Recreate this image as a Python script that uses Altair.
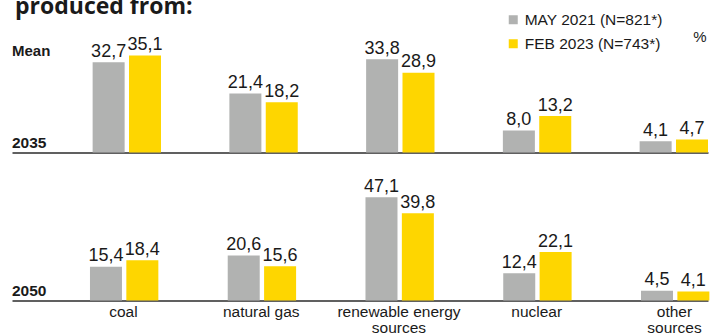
import altair as alt
import pandas as pd

categories = ["coal", "natural gas", "renewable energy sources", "nuclear", "other sources"]
series = ["MAY 2021 (N=821*)", "FEB 2023 (N=743*)"]
may_2035 = [32.7, 21.4, 33.8, 8.0, 4.1]
feb_2035 = [35.1, 18.2, 28.9, 13.2, 4.7]
may_2050 = [15.4, 20.6, 47.1, 12.4, 4.5]
feb_2050 = [18.4, 15.6, 39.8, 22.1, 4.1]
colors = ["#b1b2b1", "#fed600"]


def frame(may, feb):
    rows = []
    for c, a, b in zip(categories, may, feb):
        rows.append({"category": c, "series": series[0], "value": a})
        rows.append({"category": c, "series": series[1], "value": b})
    return pd.DataFrame(rows)


W = 696
H1, H2 = 132, 134
FONT = "Liberation Sans"
INK = "#1a1a1a"

label_expr = ("datum.value == 'renewable energy sources' ? ['renewable energy', 'sources'] : "
              "datum.value == 'other sources' ? ['other', 'sources'] : datum.label")


def note(txt, x, y, size, bold=False, font=FONT, align="left"):
    return alt.Chart(pd.DataFrame({"t": [txt]})).mark_text(
        font=font, fontSize=size, fontWeight="bold" if bold else "normal",
        color=INK, align=align, baseline="alphabetic"
    ).encode(x=alt.value(x), y=alt.value(y), text="t:N")


def panel(df, ymax, height, pin, pout, off_pin, show_labels, legend):
    base = alt.Chart(df).transform_calculate(
        txt="replace(format(datum.value, '.1f'), '.', ',')")
    x = alt.X("category:N", sort=categories, title=None,
              scale=alt.Scale(paddingInner=pin, paddingOuter=pout, align=1),
              axis=alt.Axis(labels=show_labels, ticks=False, tickSize=0, domain=True,
                            domainColor="#2b2b2b", domainWidth=1.5, labelFontSize=15.5,
                            labelFont=FONT, labelColor=INK, labelPadding=4,
                            labelExpr=label_expr, labelLineHeight=16, labelAngle=0,
                            grid=False))
    xo = alt.XOffset("series:N", sort=series,
                     scale=alt.Scale(paddingInner=off_pin, paddingOuter=0))
    y = alt.Y("value:Q", scale=alt.Scale(domain=[0, ymax]), axis=None)
    color = alt.Color("series:N", sort=series,
                      scale=alt.Scale(domain=series, range=colors), legend=legend)
    bars = base.mark_bar().encode(x=x, xOffset=xo, y=y, color=color)
    text = base.mark_text(font=FONT, fontSize=18, color=INK, dy=-5.5,
                          baseline="alphabetic").encode(x=x, xOffset=xo, y=y, text="txt:N")
    return bars, text


legend = alt.Legend(orient="none", legendX=493.5, legendY=-8.5, title=None,
                    symbolType="square", symbolSize=81, symbolStrokeWidth=0,
                    symbolOpacity=1, labelFontSize=15.5, labelFont=FONT, labelColor=INK,
                    labelOffset=3.7, rowPadding=7, padding=0)

b1, t1 = panel(frame(may_2035, feb_2035), H1 / 2.76, H1, 0.5, 0.2948, 0.12, False, legend)
b2, t2 = panel(frame(may_2050, feb_2050), H2 / 2.19, H2, 0.5136, 0.283, 0.14, True, None)

top = alt.layer(
    b1, t1,
    note("produced from:", 3, -6.5, 23, bold=True, font="Open Sans"),
    note("Mean", 0, 35, 15, bold=True),
    note("2035", 0, 127.3, 15.5, bold=True),
    note("%", 688, 21.7, 15, align="center"),
).properties(width=W, height=H1)

bottom = alt.layer(
    b2, t2,
    note("2050", 0, 129, 15.5, bold=True),
).properties(width=W, height=H2)

chart = alt.vconcat(top, bottom, spacing=14, bounds="flush").resolve_legend(
    color="independent"
).properties(
    padding={"left": 12, "top": -4.5, "right": 0, "bottom": 0}
).configure_view(stroke=None)

chart.save("out.html", embed_options={"renderer": "svg", "actions": False})
